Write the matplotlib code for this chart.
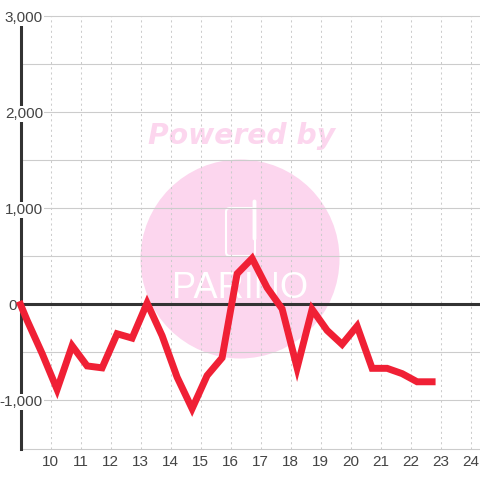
import matplotlib
matplotlib.use("Agg")
import matplotlib.pyplot as plt
from matplotlib.patches import Circle, FancyBboxPatch
from matplotlib.transforms import IdentityTransform

hours = [9.0, 9.22, 9.72, 10.22, 10.72, 11.22, 11.72, 12.22, 12.72, 13.22, 13.72, 14.22, 14.72,
         15.22, 15.72, 16.22, 16.72, 17.22, 17.72, 18.22, 18.72, 19.22, 19.72, 20.22, 20.72,
         21.22, 21.72, 22.22, 22.72]
values = [0, -165, -510, -885, -430, -640, -660, -305, -350, 15, -325, -757, -1085,
          -740, -555, 320, 480, 175, -45, -660, -50, -270, -415, -225, -665,
          -665, -720, -805, -805]
x_ticks = list(range(10, 25))
y_major = [-1500, -1000, -500, 0, 500, 1000, 1500, 2000, 2500, 3000]
y_labels = {-1000: "-1,000", 0: "0", 1000: "1,000", 2000: "2,000", 3000: "3,000"}

plt.rcParams["font.family"] = ["Liberation Sans", "DejaVu Sans"]
W, H = 480, 480
fig = plt.figure(figsize=(4.8, 4.8), dpi=100, facecolor="white")
ax = fig.add_axes([20.5 / W, 1 - 448.5 / H, 459.5 / W, 432.5 / H])
ax.patch.set_alpha(0)
ax.set_xlim(9, 9 + 459.5 / 30)
ax.set_ylim(-1500, 3005)

# watermark, placed in pixels
px = lambda x, y: (x, H - y)
pink = "#fcd6ee"
T = IdentityTransform()
fig.add_artist(Circle(px(240, 259), 99.5, transform=T, fc=pink, ec="none", zorder=-5))
fig.text(242 / W, 1 - 136 / H, "Powered by", color=pink, fontsize=20.3, ha="center", va="center",
         family="DejaVu Sans", weight="bold", style="italic", zorder=-4)
fig.add_artist(FancyBboxPatch(px(226, 256), 29, 48, boxstyle="round,pad=0,rounding_size=4",
                              transform=T, fc="none", ec="white", lw=1.5, zorder=-4))
fig.add_artist(FancyBboxPatch(px(253, 240), 3, 40, boxstyle="round,pad=0,rounding_size=1.5",
                              transform=T, fc="white", ec="white", lw=0.6, zorder=-4))
fig.text(240 / W, 1 - 289 / H, "PARINO", color="white", fontsize=26, ha="center", va="center",
         family="Liberation Sans", zorder=-4)

# grid
for v in y_major:
    ax.axhline(v, color="#cccccc", lw=0.8, zorder=1, clip_on=False)
for t in x_ticks:
    ax.axvline(t, color="#cccccc", lw=0.75, ls=(0, (2, 3)), zorder=1)

# axes lines
ax.axhline(0, color="#333333", lw=2.2, zorder=3, clip_on=False)
ax.axvline(9, color="#333333", lw=2.2, zorder=3, clip_on=False)
for s in ax.spines.values():
    s.set_visible(False)

# labels
ax.set_yticks([])
ax.set_xticks(x_ticks)
ax.set_xticklabels([str(t) for t in x_ticks], fontsize=11, color="#444444")
ax.tick_params(axis="x", length=0, pad=5)
for v, s in y_labels.items():
    xr = 9.75 if v != 0 else 8.87
    ax.text(xr, v - 12, s, ha="right", va="center", fontsize=11, color="#444444", zorder=4, clip_on=False,
            bbox=dict(fc="white", ec="none", pad=0.8))

ax.plot(hours, values, color="#f02035", lw=5, solid_joinstyle="miter", solid_capstyle="projecting",
        zorder=5, clip_on=False)

fig.savefig("out.png", dpi=100, facecolor="white")
